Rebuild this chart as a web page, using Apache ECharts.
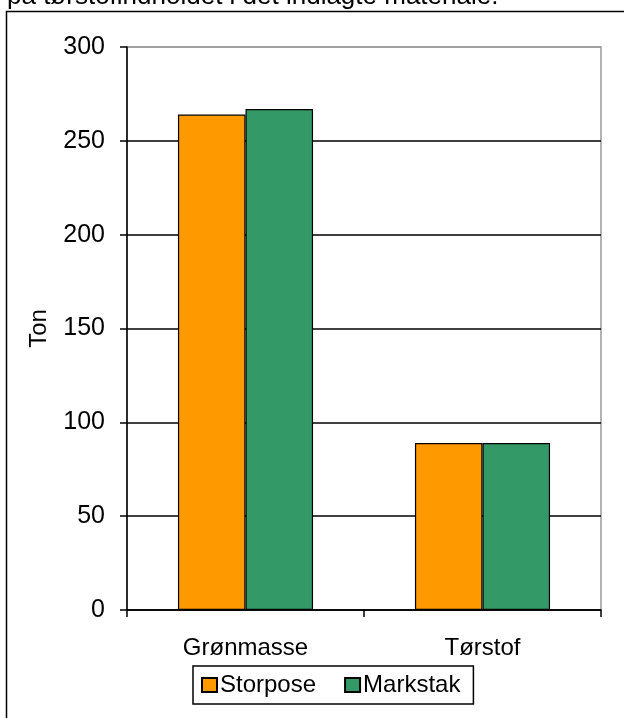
<!DOCTYPE html>
<html>
<head>
<meta charset="utf-8">
<script src="https://cdn.jsdelivr.net/npm/echarts@6/dist/echarts.min.js"></script>
<style>
html,body{margin:0;padding:0;background:#fff;}
#c{width:624px;height:718px;}
</style>
</head>
<body>
<div id="c"></div>
<script>
const categories = ['Grønmasse', 'Tørstof'];
const storpose = [264, 89];
const markstak = [267, 89];
const seriesNames = ['Storpose', 'Markstak'];
const yTicks = [0, 50, 100, 150, 200, 250, 300];
const captionText = 'på tørstofindholdet i det indlagte materiale.';
const yAxisName = 'Ton';

const FONT = 'Liberation Sans, Arial, sans-serif';
const chart = echarts.init(document.getElementById('c'), null, {renderer: 'canvas'});
chart.setOption({
  animation: false,
  backgroundColor: '#fff',
  textStyle: {fontFamily: FONT, color: '#000'},
  graphic: [
    {
      type: 'text', z: 10,
      style: {x: 7, y: -3, text: captionText, font: '26px ' + FONT, fill: '#000', verticalAlign: 'middle', align: 'left'}
    },
    {
      type: 'rect', z: 10, silent: true,
      shape: {x: 6.5, y: 11.5, width: 800, height: 800},
      style: {fill: 'none', stroke: '#000', lineWidth: 1.5}
    }
  ],
  grid: {left: 127, right: 23, top: 47, bottom: 108, show: true, borderColor: '#9a9a9a', borderWidth: 1.5, containLabel: false},
  legend: {
    data: seriesNames,
    left: 193, top: 666,
    itemWidth: 15, itemHeight: 14, itemGap: 28,
    padding: [7, 13, 7, 8],
    borderColor: '#000', borderWidth: 1.5,
    textStyle: {fontFamily: FONT, fontSize: 24, color: '#000', padding: [0, 0, 0, -2]},
    icon: 'rect'
  },
  xAxis: {
    type: 'category',
    data: categories,
    axisLine: {lineStyle: {color: '#000', width: 1.5}},
    axisTick: {show: true, length: 7, lineStyle: {color: '#000', width: 1.5}},
    axisLabel: {fontFamily: FONT, fontSize: 24, color: '#000', margin: 26}
  },
  yAxis: {
    type: 'value',
    min: yTicks[0], max: yTicks[yTicks.length - 1], interval: 50,
    name: yAxisName,
    nameLocation: 'middle',
    nameGap: 76,
    nameRotate: 90,
    nameTextStyle: {fontFamily: FONT, fontSize: 24, color: '#000'},
    axisLine: {show: true, lineStyle: {color: '#000', width: 1.5}},
    axisTick: {show: true, length: 7, lineStyle: {color: '#000', width: 1.5}},
    axisLabel: {fontFamily: FONT, fontSize: 25, color: '#000', margin: 22},
    splitLine: {show: true, lineStyle: {color: ['#000', '#000', '#000', '#000', '#000', '#000', '#9a9a9a'], width: 1.5}}
  },
  series: [
    {
      name: seriesNames[0], type: 'bar', data: storpose,
      barGap: '0%', barCategoryGap: '43%',
      itemStyle: {color: '#FF9900', borderColor: '#000', borderWidth: 1.2}
    },
    {
      name: seriesNames[1], type: 'bar', data: markstak,
      barGap: '0%', barCategoryGap: '43%',
      itemStyle: {color: '#339966', borderColor: '#000', borderWidth: 1.2}
    }
  ]
});
</script>
</body>
</html>
